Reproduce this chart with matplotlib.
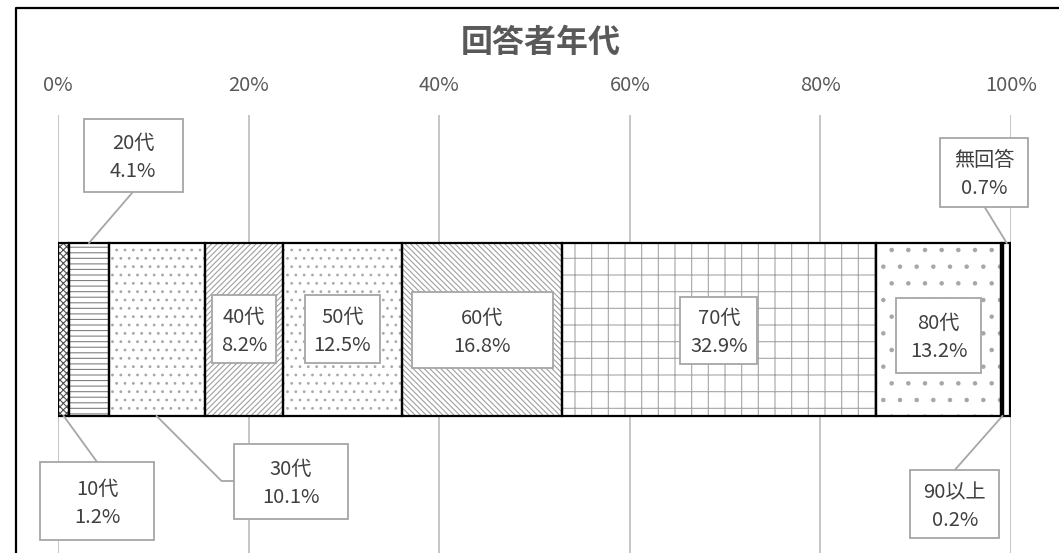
import matplotlib
matplotlib.use('Agg')
import matplotlib.pyplot as plt
from matplotlib.patches import Rectangle
from matplotlib.lines import Line2D

plt.rcParams['font.family'] = ['Noto Sans CJK JP', 'DejaVu Sans']
plt.rcParams['hatch.linewidth'] = 0.8

title = '回答者年代'
groups = ['10代', '20代', '30代', '40代', '50代', '60代', '70代', '80代', '90以上', '無回答']
shares = [1.2, 4.1, 10.1, 8.2, 12.5, 16.8, 32.9, 13.2, 0.2, 0.7]
ticks = [0, 20, 40, 60, 80, 100]

# styling per segment
hatches = ['xxxxx', '---', '..', '//////', '..', '\\\\\\\\\\\\', '+', '.', '', '']
hatch_cols = ['#505050', '#808080', '#a6a6a6', '#a0a0a0', '#aaaaaa', '#a0a0a0', '#a6a6a6', '#a6a6a6', 'black', 'white']
faces = ['white'] * 8 + ['black', 'white']

# label box layout: (x in %, y px, box w px, box h px), None x -> segment middle
label_pos = [(4.1, 501, 114, 78), (7.9, 155, 99, 73), (24.4, 481, 114, 75),
             (None, 329, 64, 68), (None, 329, 75, 68), (None, 330, 141, 76),
             (None, 330, 77, 67), (None, 335, 85, 75), (94.1, 504, 89, 68),
             (97.2, 172, 88, 69)]

W, H = 1059, 553
fig = plt.figure(figsize=(W / 100, H / 100), dpi=100)
ax = fig.add_axes([58 / W, 0, 953 / W, (H - 115) / H])
ax.set_xlim(0, 100)
ax.set_ylim(H, 115)
px = 953 / 100  # pixels per percent

bar_y, bar_h = 329.5, 173
top, bot = bar_y - bar_h / 2, bar_y + bar_h / 2

left = 0
mids = []
for g, v, hc, hcol, fc in zip(groups, shares, hatches, hatch_cols, faces):
    ax.barh(bar_y, v, left=left, height=bar_h, color=fc, edgecolor=hcol,
            hatch=hc, linewidth=0, zorder=2)
    ax.barh(bar_y, v, left=left, height=bar_h, color='none', edgecolor='black',
            linewidth=1.6, zorder=3)
    mids.append(left + v / 2)
    left += v

lc = '#a6a6a6'
for g, v, m, (lx, ly, bw, bh) in zip(groups, shares, mids, label_pos):
    if lx is None:
        lx = m
    w = bw / px
    ax.add_patch(Rectangle((lx - w / 2, ly - bh / 2), w, bh, facecolor='white',
                           edgecolor=lc, linewidth=1.3, zorder=5, clip_on=False))
    ax.text(lx, ly + 2.5, f'{g}\n{v}%', ha='center', va='center', fontsize=14.5,
            color='#404040', linespacing=1.45, zorder=6)
    # leader lines for labels outside the bar
    if ly > bot:
        if g == '30代':
            xs, ys = [m, lx - w / 2 - 12 / px, lx - w / 2], [bot, ly, ly]
        else:
            xs, ys = [m, lx], [bot, ly - bh / 2]
        ax.plot(xs, ys, color=lc, lw=1.3, zorder=4, clip_on=False)
    elif ly + bh / 2 < top:
        ax.plot([m, lx], [top, ly + bh / 2], color=lc, lw=1.3, zorder=4, clip_on=False)

ax.xaxis.tick_top()
ax.set_xticks(ticks)
ax.set_xticklabels([f'{t}%' for t in ticks])
ax.tick_params(axis='x', length=0, pad=14, labelsize=14.5, labelcolor='#595959')
ax.set_yticks([])
ax.grid(axis='x', color='#c0c0c0', lw=1.3, zorder=0)
ax.set_axisbelow(True)
for s in ax.spines.values():
    s.set_visible(False)

fig.text(541 / W, 1 - 43 / H, title, ha='center', va='center', fontsize=23,
         fontweight='bold', color='#595959')
fig.add_artist(Line2D([16 / W, 16 / W, 1.0], [0, 1 - 8 / H, 1 - 8 / H],
                      color='black', lw=1.6, transform=fig.transFigure))

fig.savefig('out.png', dpi=100)
